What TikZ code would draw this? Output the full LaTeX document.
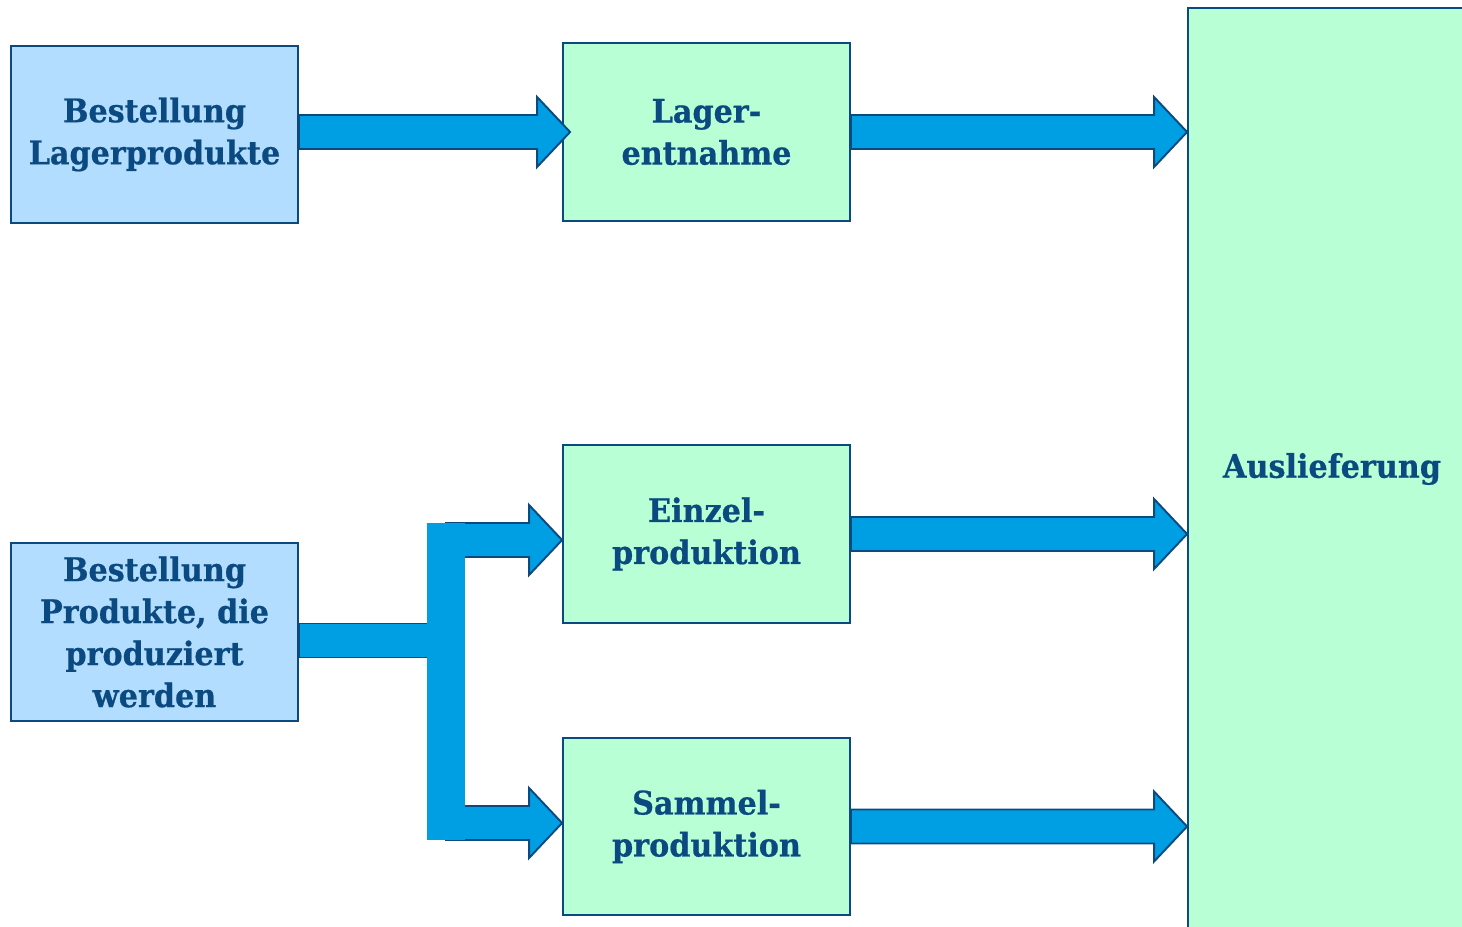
\documentclass[tikz,border=0pt]{standalone}
\usepackage{fontspec}
\setmainfont{DejaVu Serif}[BoldFeatures={FakeStretch=0.93,FakeBold=0.6}]
\usetikzlibrary{calc}
\definecolor{edge}{HTML}{0B4A80}
\definecolor{orderfill}{HTML}{B3DDFF}
\definecolor{stagefill}{HTML}{B9FFD5}
\definecolor{flowfill}{HTML}{009FE3}
% block arrow: tail point, tip point (same height)
\newcommand\blockarrow[2]{%
  \draw[flow] ($(#1)+(0,-17)$) -- ($(#2)+(-33,-17)$) -- ($(#2)+(-33,-35)$) -- (#2)
    -- ($(#2)+(-33,35)$) -- ($(#2)+(-33,17)$) -- ($(#1)+(0,17)$) -- cycle;}
\begin{document}
\begin{tikzpicture}[x=0.02cm,y=-0.02cm,
    box/.style={draw=edge,line width=1.1pt,minimum width=5.74cm,minimum height=3.55cm,
      align=center,text=edge,inner sep=0pt,font=\bfseries\fontsize{18.5}{23.9}\selectfont},
    order/.style={box,fill=orderfill},
    stage/.style={box,fill=stagefill},
    flow/.style={draw=edge,fill=flowfill,line width=1.1pt,line join=miter}]
  \useasboundingbox (0,0) rectangle (1462,926);
  \node[order] (lagerorder) at (154.5,134.5) {Bestellung\\Lagerprodukte};
  \node[order] (prodorder) at (154.5,632) {Bestellung\\Produkte, die\\produziert\\werden};
  \node[stage] (entnahme) at (706.5,132) {Lager-\\entnahme};
  \node[stage] (einzel) at (706.5,534) {Einzel-\\produktion};
  \node[stage] (sammel) at (706.5,826.5) {Sammel-\\produktion};
  \node[stage,minimum width=5.76cm,minimum height=18.44cm] (ausl) at (1332,469) {Auslieferung};
  % arrows
  \blockarrow{lagerorder.east |- entnahme.west}{$(entnahme.west)+(8,0)$}
  \blockarrow{entnahme.east}{ausl.west |- entnahme.east}
  \blockarrow{einzel.east}{ausl.west |- einzel.east}
  \blockarrow{sammel.east}{ausl.west |- sammel.east}
  % fork
  \coordinate (fork) at (446,640.5);
  \coordinate (armtop) at (446,540);
  \coordinate (armbot) at (446,823);
  \draw[flow] ($(prodorder.east |- fork)+(0,-17)$) -- ($(fork)+(0,-17)$)
    -- ($(fork)+(0,17)$) -- ($(prodorder.east |- fork)+(0,17)$) -- cycle;
  \blockarrow{armtop}{einzel.west |- armtop}
  \blockarrow{armbot}{sammel.west |- armbot}
  \fill[flowfill] (427,523) rectangle (465,840);
\end{tikzpicture}
\end{document}
